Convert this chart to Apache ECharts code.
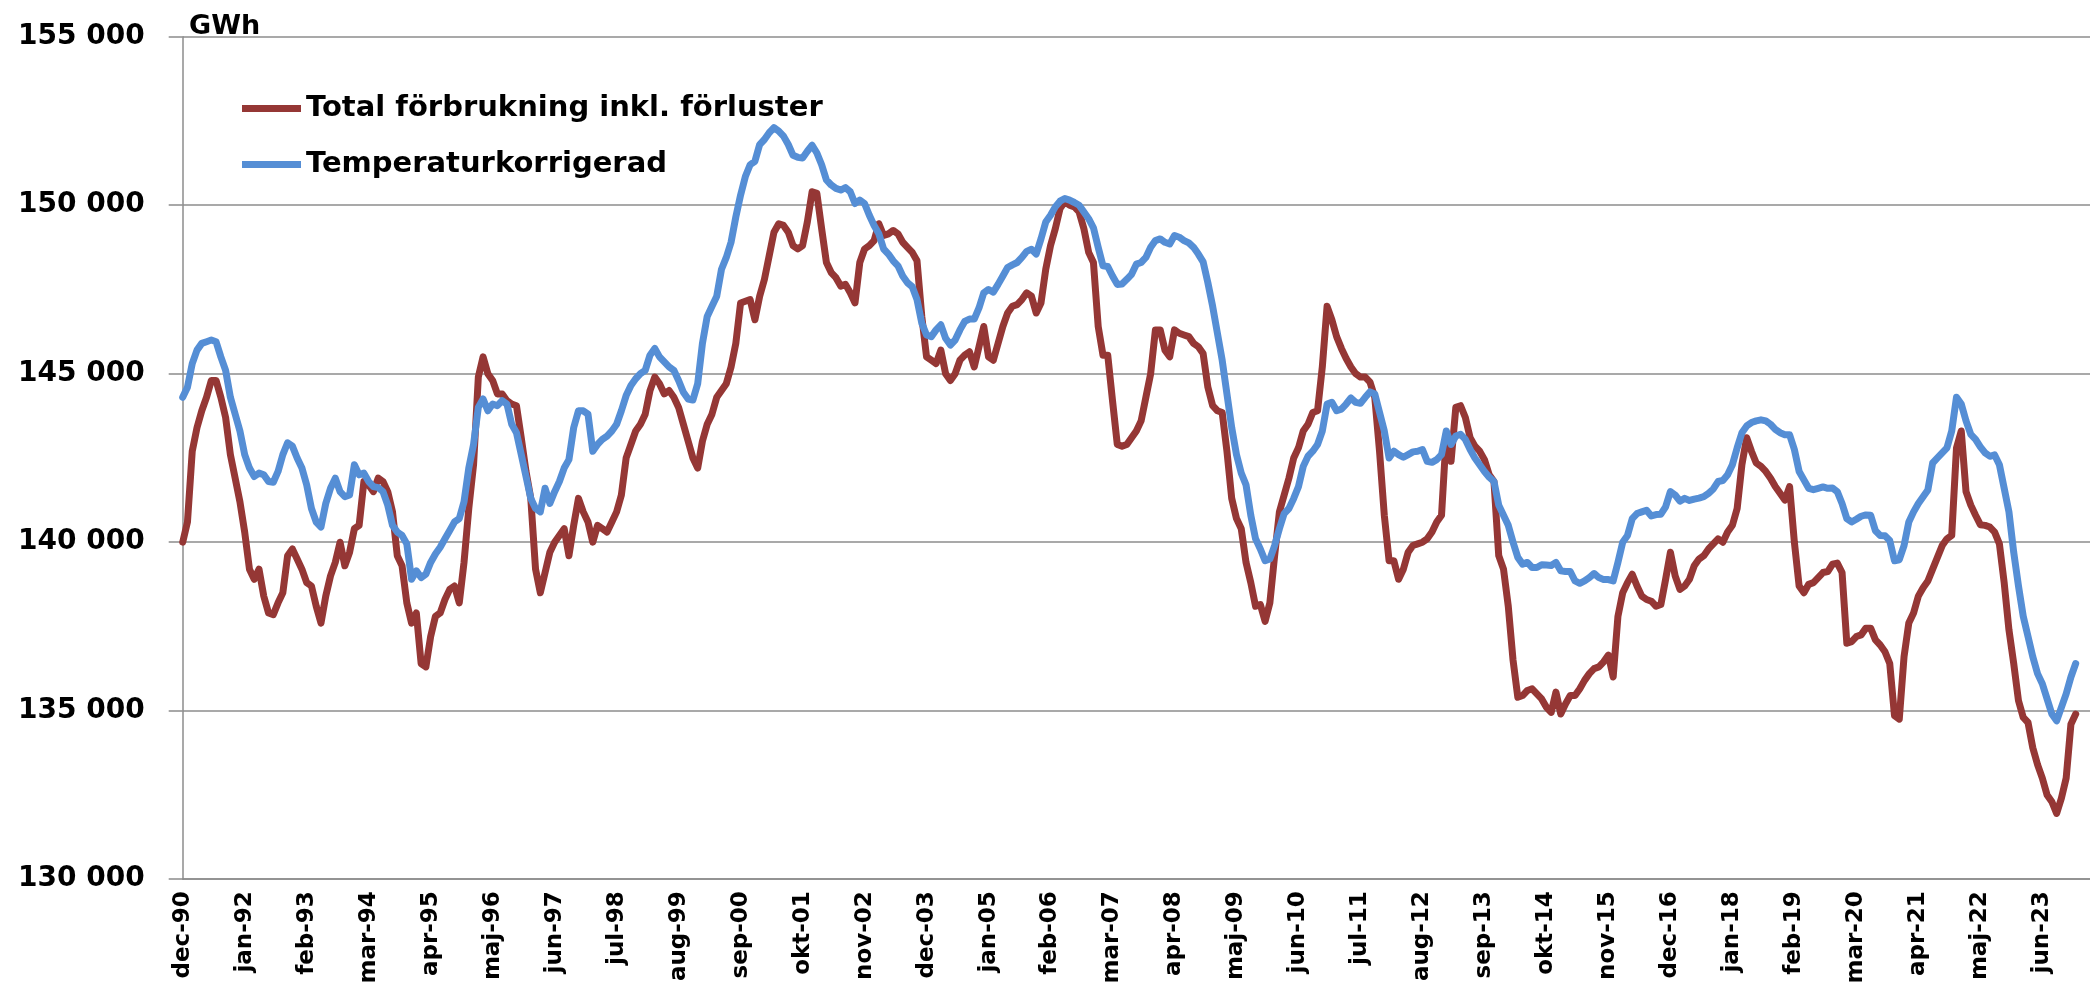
<!DOCTYPE html>
<html>
<head>
<meta charset="utf-8">
<script src="https://cdn.jsdelivr.net/npm/echarts@6/dist/echarts.min.js"></script>
<style>
html,body{margin:0;padding:0;background:#fff;}
#chart{width:2090px;height:984px;}
</style>
</head>
<body>
<div id="chart"></div>
<script>
// Month names (Swedish abbreviations) and series start
var monthNames = ['jan','feb','mar','apr','maj','jun','jul','aug','sep','okt','nov','dec'];
var startYear = 1990, startMonth = 11, categoryCount = 401;

var seriesNames = ['Total förbrukning inkl. förluster', 'Temperaturkorrigerad'];
var unitLabel = 'GWh';

var totalConsumption = [
140000,140600,142700,143400,143900,144300,144800,144800,144300,143700,
142600,141900,141200,140300,139200,138900,139200,138400,137900,137850,
138200,138500,139600,139800,139500,139200,138800,138700,138100,137600,
138400,139000,139400,140000,139300,139700,140400,140500,141800,141700,
141500,141900,141800,141500,140900,139600,139300,138200,137600,137900,
136400,136300,137200,137800,137900,138300,138600,138700,138200,139400,
141000,142300,144900,145500,145000,144800,144400,144400,144200,144100,
144050,143100,142100,141300,139200,138500,139100,139700,140000,140200,
140400,139600,140500,141300,140900,140600,140000,140500,140400,140300,
140600,140900,141400,142500,142900,143300,143500,143800,144500,144900,
144700,144400,144500,144300,144000,143500,143000,142500,142200,143000,
143500,143800,144300,144500,144700,145200,145900,147100,147150,147200,
146600,147300,147800,148500,149200,149450,149400,149200,148800,148700,
148800,149500,150400,150350,149300,148300,148000,147850,147600,147650,
147400,147100,148300,148700,148800,148950,149450,149100,149150,149250,
149150,148900,148750,148600,148350,146700,145500,145400,145300,145700,
145000,144800,145000,145400,145550,145650,145200,145800,146400,145500,
145400,145900,146400,146800,147000,147050,147200,147400,147300,146800,
147100,148100,148800,149300,149900,150100,150000,149950,149800,149300,
148600,148300,146400,145550,145550,144200,142900,142850,142900,143100,
143300,143600,144300,145000,146300,146300,145700,145500,146300,146200,
146150,146100,145900,145800,145600,144600,144050,143900,143850,142700,
141300,140700,140400,139400,138800,138100,138150,137650,138200,139600,
140900,141400,141900,142500,142800,143300,143500,143850,143900,145200,
147000,146600,146100,145750,145450,145200,145000,144900,144900,144750,
144300,142700,140800,139450,139450,138900,139200,139700,139900,139950,
140000,140100,140300,140600,140800,143200,142400,144000,144050,143700,
143100,142850,142700,142450,142000,141800,139600,139200,138100,136500,
135400,135450,135600,135650,135500,135350,135100,134950,135550,134900,
135200,135450,135450,135650,135900,136100,136250,136300,136450,136650,
136000,137800,138500,138800,139050,138700,138400,138300,138250,138100,
138150,138900,139700,139000,138600,138700,138900,139300,139500,139600,
139800,139950,140100,140000,140300,140500,141000,142300,143100,142700,
142350,142250,142100,141900,141650,141450,141250,141650,140000,138700,
138500,138750,138800,138950,139100,139130,139350,139380,139100,137000,
137050,137200,137250,137450,137450,137100,136950,136750,136400,134850,
134750,136600,137600,137900,138400,138650,138850,139200,139550,139900,
140100,140200,142800,143300,141500,141100,140800,140520,140500,140450,
140300,139950,138800,137400,136400,135300,134800,134650,133900,133400,
133000,132500,132300,131950,132400,133000,134600,134900
];

var temperatureCorrected = [
144300,144600,145300,145700,145900,145950,146000,145950,145500,145100,
144300,143800,143300,142600,142200,141950,142050,142000,141800,141780,
142100,142600,142950,142850,142500,142200,141700,141000,140600,140450,
141150,141600,141900,141500,141350,141400,142300,142000,142050,141800,
141650,141620,141500,141100,140500,140300,140200,139950,138900,139150,
138950,139050,139400,139650,139850,140100,140350,140600,140700,141200,
142200,142900,144000,144250,143900,144100,144050,144200,144100,143500,
143250,142600,141950,141300,141000,140900,141600,141150,141500,141800,
142200,142450,143400,143900,143900,143800,142700,142900,143050,143150,
143300,143500,143900,144350,144650,144850,145000,145100,145550,145750,
145500,145350,145200,145100,144800,144450,144250,144220,144700,145900,
146700,147000,147300,148100,148450,148900,149650,150300,150850,151200,
151300,151800,151950,152150,152300,152200,152050,151800,151480,151420,
151400,151600,151780,151550,151200,150750,150600,150500,150450,150520,
150400,150050,150150,150050,149700,149400,149150,148700,148550,148350,
148200,147900,147700,147580,147200,146500,146150,146100,146300,146450,
146050,145850,146000,146300,146550,146620,146620,146950,147400,147500,
147420,147650,147900,148150,148230,148300,148450,148630,148690,148550,
149000,149500,149700,149950,150120,150200,150150,150080,150000,149800,
149600,149330,148750,148200,148180,147900,147650,147660,147800,147950,
148250,148300,148450,148750,148950,149000,148900,148850,149100,149050,
148950,148880,148750,148550,148320,147700,147000,146200,145400,144400,
143400,142600,142050,141700,140800,140100,139800,139450,139500,139900,
140400,140850,141000,141300,141650,142250,142550,142700,142900,143300,
144100,144150,143900,143950,144100,144280,144150,144120,144300,144460,
144400,143850,143300,142500,142700,142600,142520,142600,142680,142700,
142750,142400,142370,142450,142600,143300,142900,143150,143200,143050,
142750,142500,142300,142100,141930,141800,141100,140800,140500,140000,
139550,139350,139400,139250,139250,139330,139320,139310,139400,139150,
139130,139130,138850,138780,138850,138950,139070,138950,138890,138890,
138850,139400,140000,140200,140700,140850,140900,140950,140780,140820,
140830,141050,141500,141400,141220,141300,141240,141280,141310,141350,
141450,141580,141800,141830,142000,142300,142800,143250,143450,143550,
143600,143630,143600,143500,143350,143250,143190,143190,142750,142100,
141850,141600,141560,141600,141640,141600,141610,141500,141150,140700,
140600,140680,140770,140810,140800,140340,140200,140190,140050,139450,
139480,139900,140600,140900,141150,141350,141550,142350,142500,142650,
142800,143300,144300,144100,143600,143200,143050,142830,142650,142550,
142590,142300,141600,140900,139700,138700,137800,137200,136600,136100,
135800,135350,134900,134700,135100,135500,136000,136400
];

var yMin = 130000, yMax = 155000, yStep = 5000;
var labelEvery = 13;

// Build month category labels (e.g. "dec-90")
var categories = [];
for (var i = 0; i < categoryCount; i++) {
  var m = (startMonth + i) % 12;
  var y = startYear + Math.floor((startMonth + i) / 12);
  categories.push(monthNames[m] + '-' + String(y % 100).padStart(2, '0'));
}

function fmtThousands(v) {
  return String(v).replace(/\B(?=(\d{3})+(?!\d))/g, ' ');
}

var FONT = 'DejaVu Sans';
var GRID_COLOR = '#8c8c8c';

var chart = echarts.init(document.getElementById('chart'), null, {renderer: 'canvas'});
chart.setOption({
  animation: false,
  backgroundColor: '#ffffff',
  title: {
    text: unitLabel,
    left: 184,
    top: 8,
    textStyle: {fontFamily: FONT, fontWeight: 'bold', fontSize: 27, color: '#000'}
  },
  legend: {
    orient: 'vertical',
    left: 237,
    top: 87,
    itemWidth: 59,
    itemHeight: 7,
    itemGap: 23,
    icon: 'rect',
    textStyle: {fontFamily: FONT, fontWeight: 'bold', fontSize: 29, color: '#000', lineHeight: 33},
    data: seriesNames
  },
  grid: {
    left: 182.7,
    right: 0,
    top: 36.7,
    bottom: 104.8,
    containLabel: false,
    outerBoundsMode: 'none'
  },
  xAxis: {
    type: 'category',
    data: categories,
    boundaryGap: false,
    axisLine: {show: true, lineStyle: {color: GRID_COLOR, width: 1.5}},
    axisTick: {show: false},
    axisLabel: {
      interval: labelEvery - 1,
      rotate: 90,
      margin: 12,
      fontFamily: FONT,
      fontWeight: 'bold',
      fontSize: 23,
      color: '#000'
    },
    splitLine: {show: false}
  },
  yAxis: {
    type: 'value',
    min: yMin,
    max: yMax,
    interval: yStep,
    axisLine: {show: true, lineStyle: {color: GRID_COLOR, width: 1.5}},
    axisTick: {show: true, length: 14, lineStyle: {color: GRID_COLOR, width: 1.5}},
    axisLabel: {
      margin: 38,
      fontFamily: FONT,
      fontWeight: 'bold',
      fontSize: 28,
      color: '#000',
      formatter: fmtThousands
    },
    splitLine: {show: true, lineStyle: {color: GRID_COLOR, width: 1.5}}
  },
  series: [
    {
      name: seriesNames[0],
      type: 'line',
      data: totalConsumption,
      symbol: 'none',
      showSymbol: false,
      color: '#953735',
      lineStyle: {color: '#953735', width: 7, cap: 'round', join: 'round'}
    },
    {
      name: seriesNames[1],
      type: 'line',
      data: temperatureCorrected,
      symbol: 'none',
      showSymbol: false,
      color: '#558ed5',
      lineStyle: {color: '#558ed5', width: 7, cap: 'round', join: 'round'}
    }
  ]
});
</script>
</body>
</html>
